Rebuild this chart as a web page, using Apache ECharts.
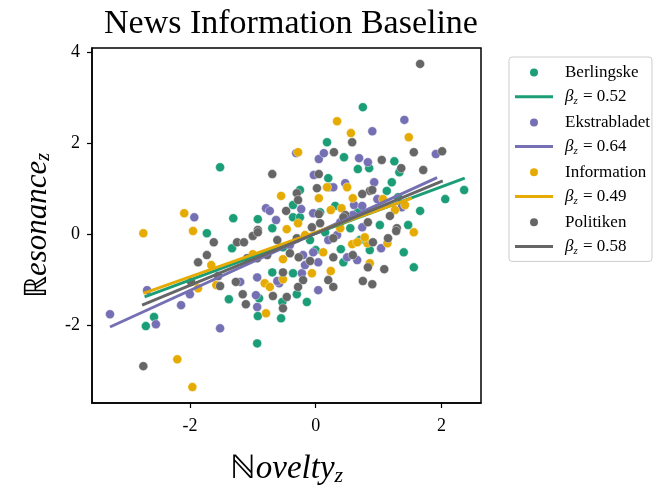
<!DOCTYPE html>
<html>
<head>
<meta charset="utf-8">
<script src="https://cdn.jsdelivr.net/npm/echarts@6/dist/echarts.min.js"></script>
<style>
  html, body { margin: 0; padding: 0; background: #fff; }
  #chart { width: 653px; height: 488px; }
</style>
</head>
<body>
<div id="chart"></div>
<script>
// scatter points [novelty_z, resonance_z]
var berlingske = [
    [-1.52, 1.47], [0.75, 2.79], [2.36, 0.97], [2.06, 0.77], [1.66, 0.51], [1.56, -0.73],
    [1.40, -0.40], [1.47, 0.20], [-0.55, -1.85], [-0.14, -1.49], [-0.30, -1.32], [-0.53, -1.49],
    [-0.69, -0.84], [0.40, -0.33], [-0.93, -2.40], [-2.70, -2.02], [-2.57, -1.82], [-1.38, -1.43],
    [-1.73, 0.02], [-1.33, -0.31], [-0.92, -1.80], [-0.90, -1.41], [-1.31, 0.35], [-0.92, 0.33],
    [-0.69, 0.13], [0.18, 2.02], [0.45, 1.69], [0.67, 1.43], [0.85, 1.45], [1.25, 1.60],
    [1.33, 1.36], [1.21, 1.14], [1.13, 0.95], [0.20, 1.23], [0.21, 1.03], [-0.25, 0.97],
    [-0.36, 0.64], [-0.36, 0.37], [-0.25, 0.37], [0.31, 0.62], [0.67, 0.48], [0.07, 0.48],
    [1.31, 0.81], [0.86, -0.35], [-0.36, -0.86], [-0.09, -0.13], [0.15, 0.04], [0.55, 0.13],
    [0.70, -0.13], [1.02, 0.20], [0.44, -0.62], [-0.52, -0.29], [0.00, -0.35]
];
var ekstrabladet = [
    [-3.27, -1.76], [-2.68, -1.23], [-2.54, -1.98], [-2.14, -1.56], [-2.00, -1.32], [-1.52, -2.07],
    [-1.20, -1.05], [-0.93, -0.95], [-0.95, -1.34], [-0.93, -1.60], [-0.58, -1.08], [-1.93, 0.37],
    [-0.79, 0.57], [-0.63, 0.31], [1.41, 2.51], [0.90, 2.26], [1.91, 1.76], [-0.31, 1.78],
    [0.05, 1.65], [0.13, 1.78], [0.69, 1.67], [0.83, 1.58], [-0.03, 1.30], [0.47, 1.12],
    [0.28, 1.03], [0.93, 1.14], [0.61, 0.64], [0.74, 0.62], [0.98, 0.77], [1.37, 0.59],
    [-0.23, 0.55], [-0.04, 0.46], [0.59, 0.42], [-0.61, -1.03], [-0.22, -0.86], [0.04, -1.23],
    [-0.20, -0.46], [-0.04, -0.40], [0.04, -0.62], [0.66, -0.57], [0.50, -0.51], [0.34, -0.02],
    [0.74, 0.15], [1.04, -0.31], [-0.73, 0.51], [-0.41, -0.24], [0.20, -0.13], [0.39, 0.26],
    [-0.17, -0.68]
];
var information = [
    [-2.74, 0.02], [-2.20, -2.75], [-1.96, -3.36], [-1.95, 0.07], [-2.09, 0.46], [-0.55, 0.84],
    [-1.66, -0.68], [-1.87, -1.19], [-1.58, -1.12], [-0.81, -1.08], [-0.79, -1.74], [-1.00, -0.44],
    [-0.73, -1.16], [-0.52, -0.55], [0.34, 2.48], [0.56, 2.22], [1.48, 2.13], [-0.28, 1.80],
    [0.50, 1.03], [0.18, 1.03], [0.05, 0.79], [0.59, 0.79], [1.07, 0.77], [0.24, 0.53],
    [0.41, 0.57], [-0.28, 0.24], [1.56, 0.04], [-0.46, 0.11], [-0.06, -0.86], [0.24, -0.81],
    [0.12, -0.40], [0.58, -0.22], [0.82, -0.20], [0.86, -0.64], [-0.52, -0.99], [1.14, -0.20],
    [0.66, -0.18], [0.78, -0.07], [1.26, 0.53], [1.42, 0.64], [-0.17, -0.02], [0.39, 0.13]
];
var politiken = [
    [1.66, 3.74], [-2.74, -2.90], [-0.69, 1.32], [-0.47, 0.51], [-0.92, 0.09], [2.01, 1.82],
    [1.56, 1.80], [0.58, 2.02], [0.29, 1.80], [1.05, 1.63], [1.36, 1.45], [1.71, 1.41],
    [0.05, 1.32], [0.02, 1.01], [0.86, 0.95], [0.74, 0.88], [-0.30, 0.90], [-0.28, 0.75],
    [0.05, 0.44], [0.47, 0.42], [0.83, 0.26], [1.29, 0.13], [0.90, 0.97], [1.18, 0.40],
    [-1.62, -0.18], [-1.73, -0.46], [-1.87, -0.62], [-1.52, -1.14], [-1.27, -1.05], [-1.16, -1.32],
    [-1.11, -1.54], [-0.68, -1.36], [-0.46, -1.38], [-0.52, -0.84], [-1.25, -0.18], [-1.14, -0.18],
    [-1.00, -0.04], [-0.92, 0.04], [-1.09, -0.53], [-0.93, -0.53], [-0.77, -0.46], [-1.98, -1.05],
    [-1.55, -0.92], [0.07, 0.24], [-0.06, 0.15], [-0.30, -0.09], [-0.61, -0.13], [-0.41, -0.42],
    [-0.27, -0.51], [-0.09, -0.59], [-0.20, -1.01], [-0.28, -1.16], [0.28, -0.51], [0.20, -1.01],
    [0.28, -1.16], [0.59, -0.46], [0.75, -1.03], [0.90, -1.10], [0.44, 0.37], [0.28, -0.09],
    [0.83, -0.73], [1.09, -0.77], [1.28, 0.07], [-0.52, -1.63], [1.15, -0.09], [0.91, -0.18]
];
// regression line end points
var berlingskeFit = [[-2.72, -1.38], [2.37, 1.23]];
var ekstrabladetFit = [[-3.27, -2.04], [1.93, 1.24]];
var informationFit = [[-2.74, -1.30], [1.53, 0.79]];
var politikenFit = [[-2.76, -1.56], [2.02, 1.17]];

var outlets = ['Berlingske', 'Ekstrabladet', 'Information', 'Politiken'];
var betas = ['0.52', '0.64', '0.49', '0.58'];
var colors = ['#1b9e77', '#7570b3', '#e6ab02', '#666666'];
var xTicks = [-2, 0, 2];
var yTicks = [-2, 0, 2, 4];

var pointSets = [berlingske, ekstrabladet, information, politiken];
var fitSets = [berlingskeFit, ekstrabladetFit, informationFit, politikenFit];

var serif = 'Liberation Serif, Times New Roman, serif';
var series = [];
var legendData = [];
outlets.forEach(function (name, i) {
    var fitName = 'β_z = ' + betas[i];
    series.push({
        name: name,
        type: 'scatter',
        symbol: 'circle',
        symbolSize: 9,
        itemStyle: { color: colors[i], opacity: 1, borderColor: '#fff', borderWidth: 0.4 },
        data: pointSets[i]
    });
    series.push({
        name: fitName,
        type: 'line',
        symbol: 'none',
        lineStyle: { color: colors[i], width: 3 },
        itemStyle: { color: colors[i] },
        data: fitSets[i]
    });
    legendData.push({ name: name, icon: 'circle' });
    legendData.push({ name: fitName, icon: 'path://M0,0L38,0L38,3L0,3Z', itemStyle: { color: colors[i] } });
});

var myChart = echarts.init(document.getElementById('chart'), null, { renderer: 'canvas' });
var option = {
    animation: false,
    title: {
        text: 'News Information Baseline',
        left: 286,
        textAlign: 'center',
        top: 2,
        textStyle: { fontFamily: serif, fontSize: 34, fontWeight: 'normal', color: '#000' }
    },
    legend: {
        data: legendData,
        orient: 'vertical',
        left: 509,
        top: 57,
        itemWidth: 38,
        itemHeight: 10,
        itemGap: 7.2,
        padding: [7, 2, 5, 6],
        borderColor: '#cccccc',
        borderWidth: 1,
        borderRadius: 3,
        backgroundColor: '#fff',
        formatter: function (name) {
            if (name.indexOf('β_z') === 0) {
                return '{i|β}{s|z}{n| = ' + name.split('= ')[1] + '}';
            }
            return '{n|' + name + '}';
        },
        textStyle: {
            fontFamily: serif,
            fontSize: 17,
            color: '#000',
            padding: [0, 0, 0, 7],
            rich: {
                n: { fontFamily: serif, fontSize: 17, lineHeight: 20, color: '#000' },
                i: { fontFamily: serif, fontSize: 17, fontStyle: 'italic', lineHeight: 20, color: '#000' },
                s: { fontFamily: serif, fontSize: 11, fontStyle: 'italic', lineHeight: 20, verticalAlign: 'bottom', padding: [7, 1, 0, 0], color: '#000' }
            }
        }
    },
    grid: {
        left: 92,
        top: 48,
        right: 172,
        bottom: 85,
        outerBoundsMode: 'none',
        containLabel: false,
        show: true,
        borderColor: '#000',
        borderWidth: 1.5
    },
    xAxis: {
        type: 'value',
        min: -3.556,
        max: 2.628,
        name: '{a|ℕ}{b|ovelty}{c|z}',
        nameLocation: 'middle',
        nameGap: 48,
        nameTextStyle: {
            rich: {
                a: { fontFamily: serif, fontSize: 33, color: '#000' },
                b: { fontFamily: serif, fontSize: 33, fontStyle: 'italic', color: '#000' },
                c: { fontFamily: serif, fontSize: 22, fontStyle: 'italic', color: '#000', verticalAlign: 'bottom', padding: [14, 0, 0, 0] }
            }
        },
        axisLine: { show: true, onZero: false, lineStyle: { color: '#000', width: 1.5 } },
        axisTick: { show: true, length: 5, customValues: xTicks, lineStyle: { color: '#000', width: 1.2 } },
        axisLabel: { customValues: xTicks, fontFamily: serif, fontSize: 18, color: '#000', margin: 14 },
        splitLine: { show: false }
    },
    yAxis: {
        type: 'value',
        min: -3.71,
        max: 4.09,
        name: '{a|ℝ}{b|esonance}{c|z}',
        nameLocation: 'middle',
        nameGap: 38,
        nameTextStyle: {
            rich: {
                a: { fontFamily: serif, fontSize: 31, color: '#000' },
                b: { fontFamily: serif, fontSize: 31, fontStyle: 'italic', color: '#000' },
                c: { fontFamily: serif, fontSize: 20, fontStyle: 'italic', color: '#000', verticalAlign: 'bottom', padding: [13, 0, 0, 0] }
            }
        },
        axisLine: { show: true, onZero: false, lineStyle: { color: '#000', width: 1.5 } },
        axisTick: { show: true, length: 5, customValues: yTicks, lineStyle: { color: '#000', width: 1.2 } },
        axisLabel: { customValues: yTicks, fontFamily: serif, fontSize: 18, color: '#000', margin: 12 },
        splitLine: { show: false }
    },
    series: series
};
myChart.setOption(option);
</script>
</body>
</html>
